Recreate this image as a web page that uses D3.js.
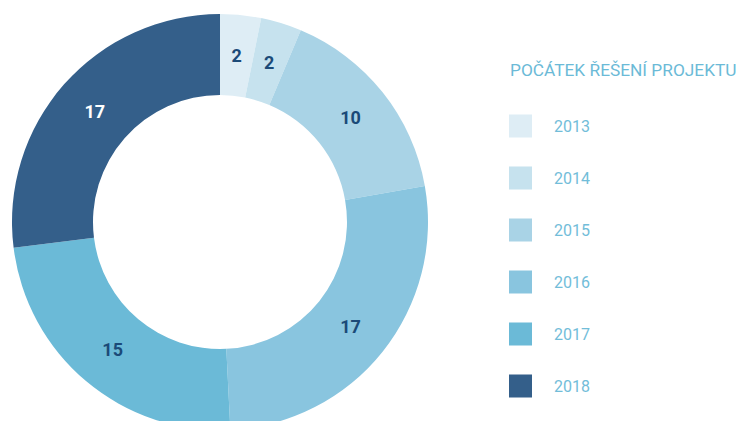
<!DOCTYPE html>
<html>
<head>
<meta charset="utf-8">
<script src="https://cdn.jsdelivr.net/npm/d3@7"></script>
<style>
  body { margin: 0; background: #fff; }
  svg text { font-family: Roboto, "DejaVu Sans", sans-serif; }
</style>
</head>
<body>
<div id="chart-area"></div>
<script>
// start of the project (year) vs number of projects
const years = ["2013", "2014", "2015", "2016", "2017", "2018"];
const counts = [2, 2, 10, 17, 15, 17];
const colors = ["#deedf5", "#c6e2ee", "#a9d3e6", "#89c5df", "#6bbad7", "#345f8a"];
const labelColors = ["#1b4a78", "#1b4a78", "#1b4a78", "#1b4a78", "#1b4a78", "#ffffff"];
const legendTitle = "POČÁTEK ŘEŠENÍ PROJEKTU";

let width = 744,
  height = 421;

let svg = d3
  .select("#chart-area")
  .append("svg")
  .attr("width", width)
  .attr("height", height);

let data = years.map((y, i) => ({ year: y, value: counts[i] }));

// donut
let outerR = 208,
  innerR = 127;

let pie = d3.pie().value((d) => d.value).sort(null);
let arc = d3.arc().innerRadius(innerR).outerRadius(outerR);
let labelArc = d3.arc().innerRadius(167).outerRadius(167);

let g = svg.append("g").attr("transform", "translate(220,222)");

let color = d3.scaleOrdinal().domain(years).range(colors);

g.selectAll("path.slice")
  .data(pie(data))
  .enter()
  .append("path")
  .attr("class", "slice")
  .attr("d", arc)
  .attr("fill", (d) => color(d.data.year));

g.selectAll("text.val")
  .data(pie(data))
  .enter()
  .append("text")
  .attr("class", "val")
  .attr("transform", (d) => "translate(" + labelArc.centroid(d) + ")")
  .attr("text-anchor", "middle")
  .attr("dy", "0.36em")
  .attr("font-size", 18)
  .attr("font-weight", "bold")
  .attr("fill", (d, i) => labelColors[i])
  .text((d) => d.data.value);

// legend
let legend = svg.append("g").attr("transform", "translate(509,0)");

legend
  .append("text")
  .attr("x", 1)
  .attr("y", 76)
  .attr("font-size", 17.3)
  .attr("fill", "#6bbad7")
  .text(legendTitle);

let ly = d3.scalePoint().domain(years).range([126, 386]);

let rows = legend
  .selectAll("g.row")
  .data(years)
  .enter()
  .append("g")
  .attr("class", "row")
  .attr("transform", (d) => "translate(0," + ly(d) + ")");

rows
  .append("rect")
  .attr("x", 0)
  .attr("y", -11.5)
  .attr("width", 23)
  .attr("height", 23)
  .attr("fill", (d) => color(d));

rows
  .append("text")
  .attr("x", 45)
  .attr("dy", "0.36em")
  .attr("font-size", 16)
  .attr("fill", "#72bdd9")
  .text((d) => d);
</script>
</body>
</html>
